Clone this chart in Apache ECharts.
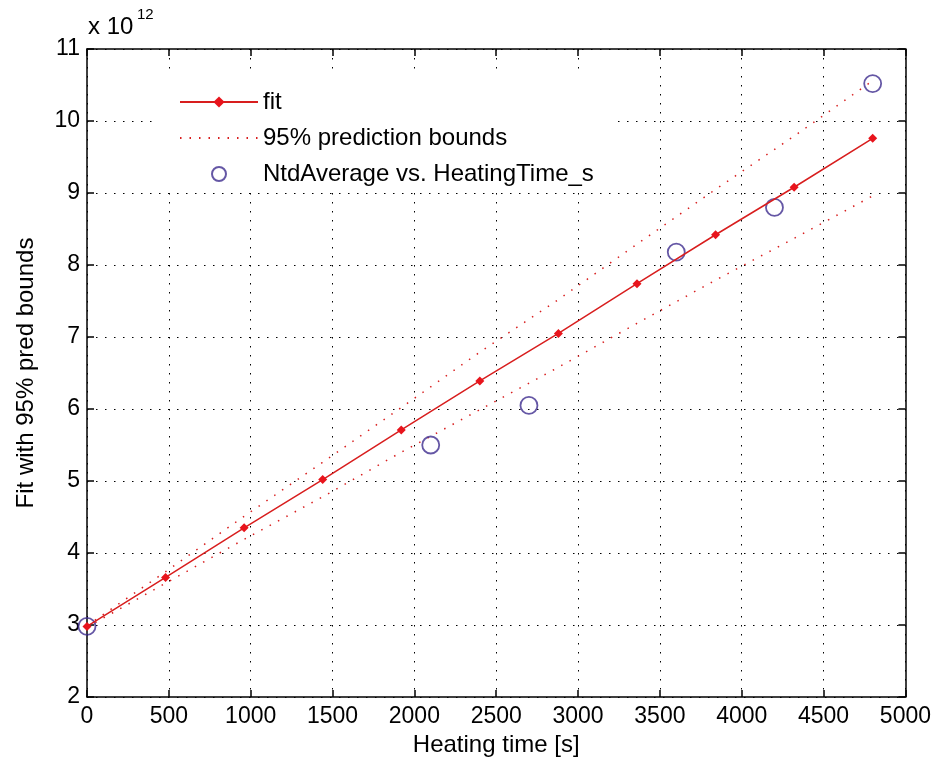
<!DOCTYPE html>
<html>
<head>
<meta charset="utf-8">
<script src="https://cdn.jsdelivr.net/npm/echarts@6/dist/echarts.min.js"></script>
<style>
html,body{margin:0;padding:0;background:#fff;}
#chart{width:934px;height:765px;}
</style>
</head>
<body>
<div id="chart"></div>
<script>
// Values of y are in units of 10^12
var fitX = [0, 480, 960, 1440, 1920, 2400, 2880, 3360, 3840, 4320, 4800];
var fitY = [2.98, 3.66, 4.35, 5.02, 5.71, 6.39, 7.05, 7.74, 8.42, 9.08, 9.76];
var upperY = [2.99, 3.74, 4.51, 5.26, 6.02, 6.79, 7.52, 8.29, 9.05, 9.79, 10.56];
var lowerY = [2.97, 3.58, 4.19, 4.78, 5.40, 5.99, 6.58, 7.19, 7.79, 8.37, 8.96];
var dataX = [0, 2100, 2700, 3600, 4200, 4800];
var dataY = [2.98, 5.50, 6.05, 8.18, 8.80, 10.52];
var seriesNames = ['fit', '95% prediction bounds', 'NtdAverage vs. HeatingTime_s'];

function pairs(xs, ys) { return xs.map(function (x, i) { return [x, ys[i]]; }); }

var FONT = '"Liberation Sans", Arial, sans-serif';
var RED = '#d81e1e';
var PURPLE = '#3f2d8e';
var gridLine = { show: true, lineStyle: { color: '#000', width: 1, type: [1.5, 7.5] } };
var plain = function (v) { return String(v); };

var chart = echarts.init(document.getElementById('chart'), null, { renderer: 'canvas' });
chart.setOption({
  animation: false,
  backgroundColor: '#fff',
  textStyle: { fontFamily: FONT },
  grid: { left: 87, right: 26, top: 49, bottom: 68, containLabel: false },
  legend: {
    orient: 'vertical',
    left: 157, top: 75,
    padding: [13, 18, 4, 22],
    backgroundColor: '#fff',
    itemWidth: 78, itemHeight: 14, itemGap: 8,
    textStyle: { fontSize: 24, color: '#000', fontFamily: FONT, lineHeight: 28 },
    data: [
      { name: seriesNames[0] },
      { name: seriesNames[1], itemStyle: { color: 'rgba(0,0,0,0)', borderWidth: 0, opacity: 0 } },
      { name: seriesNames[2] }
    ]
  },
  xAxis: [{
    type: 'value', min: 0, max: 5000, interval: 500, position: 'bottom',
    name: 'Heating time [s]', nameLocation: 'middle', nameGap: 36,
    nameTextStyle: { fontSize: 24, color: '#000', fontFamily: FONT },
    axisLine: { show: true, onZero: false, lineStyle: { color: '#000', width: 1.5 } },
    axisTick: { show: true, inside: true, length: 7, lineStyle: { color: '#000', width: 1.5 } },
    axisLabel: { fontSize: 23, color: '#000', margin: 8, fontFamily: FONT, formatter: plain },
    splitLine: gridLine
  }, {
    type: 'value', min: 0, max: 5000, interval: 500, position: 'top',
    axisLine: { show: true, onZero: false, lineStyle: { color: '#000', width: 1.5 } },
    axisTick: { show: true, inside: true, length: 7, lineStyle: { color: '#000', width: 1.5 } },
    axisLabel: { show: false }, splitLine: { show: false }
  }],
  yAxis: [{
    type: 'value', min: 2, max: 11, interval: 1, position: 'left',
    name: 'Fit with 95% pred bounds', nameLocation: 'middle', nameGap: 49,
    nameTextStyle: { fontSize: 24, color: '#000', fontFamily: FONT },
    axisLine: { show: true, onZero: false, lineStyle: { color: '#000', width: 1.5 } },
    axisTick: { show: true, inside: true, length: 7, lineStyle: { color: '#000', width: 1.5 } },
    axisLabel: { fontSize: 23, color: '#000', margin: 7, fontFamily: FONT, formatter: plain },
    splitLine: gridLine
  }, {
    type: 'value', min: 2, max: 11, interval: 1, position: 'right',
    axisLine: { show: true, onZero: false, lineStyle: { color: '#000', width: 1.5 } },
    axisTick: { show: true, inside: true, length: 7, lineStyle: { color: '#000', width: 1.5 } },
    axisLabel: { show: false }, splitLine: { show: false }
  }],
  graphic: [
    { type: 'text', left: 88, top: 15, style: { text: 'x 10', fontSize: 24, fill: '#000', fontFamily: FONT } },
    { type: 'text', left: 137, top: 7, style: { text: '12', fontSize: 15, fill: '#000', fontFamily: FONT } }
  ],
  series: [{
    name: seriesNames[0], type: 'line', data: pairs(fitX, fitY),
    symbol: 'diamond', symbolSize: 9, showSymbol: true,
    itemStyle: { color: '#e8141c' },
    lineStyle: { color: RED, width: 1.5 },
    z: 4
  }, {
    name: seriesNames[1], type: 'line', data: pairs(fitX, upperY),
    symbol: 'none', itemStyle: { color: RED },
    lineStyle: { color: RED, width: 1.5, type: [1.5, 8] }, z: 3
  }, {
    name: seriesNames[1], type: 'line', data: pairs(fitX, lowerY),
    symbol: 'none', itemStyle: { color: RED },
    lineStyle: { color: RED, width: 1.5, type: [1.5, 8] }, z: 3
  }, {
    name: seriesNames[2], type: 'scatter', data: pairs(dataX, dataY),
    symbol: 'circle', symbolSize: 17, clip: false,
    itemStyle: { color: 'rgba(0,0,0,0)', borderColor: PURPLE, borderWidth: 1.8 },
    z: 3
  }]
});
</script>
</body>
</html>
